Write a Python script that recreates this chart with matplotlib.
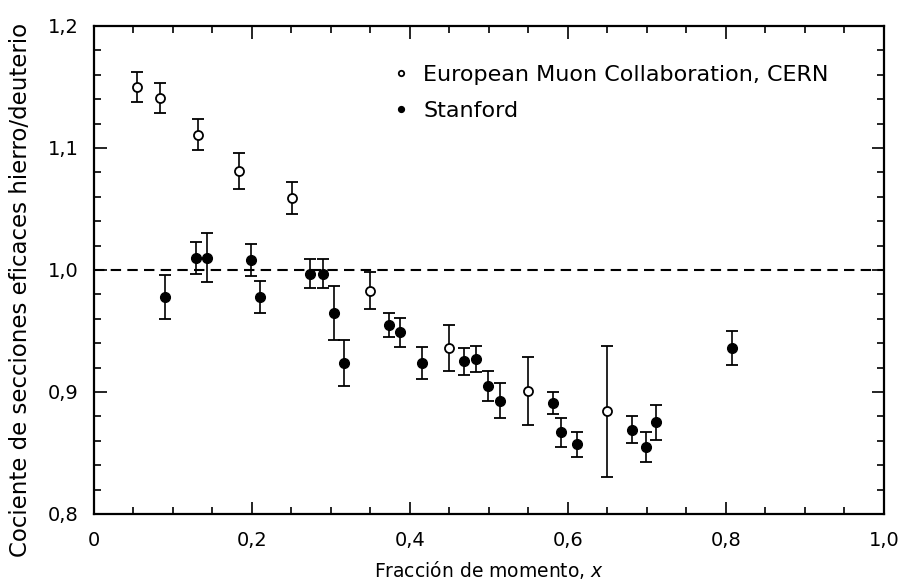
import matplotlib
matplotlib.use('Agg')
import matplotlib.pyplot as plt
from matplotlib.ticker import MultipleLocator, FuncFormatter

#---data---------------------------------------
emc_x = [0.054, 0.083, 0.132, 0.183, 0.251, 0.350, 0.450, 0.550, 0.650]
emc_y = [1.150, 1.141, 1.111, 1.081, 1.059, 0.983, 0.936, 0.901, 0.884]
emc_err = [0.012, 0.012, 0.013, 0.015, 0.013, 0.015, 0.019, 0.028, 0.054]

stan_x = [0.090, 0.129, 0.143, 0.199, 0.210, 0.273, 0.290, 0.304, 0.317,
          0.373, 0.387, 0.415, 0.468, 0.484, 0.499, 0.514, 0.581, 0.591,
          0.612, 0.681, 0.699, 0.711, 0.807]
stan_y = [0.978, 1.010, 1.010, 1.008, 0.978, 0.997, 0.997, 0.965, 0.924,
          0.955, 0.949, 0.924, 0.925, 0.927, 0.905, 0.893, 0.891, 0.867,
          0.857, 0.869, 0.855, 0.875, 0.936]
stan_err = [0.018, 0.013, 0.020, 0.013, 0.013, 0.012, 0.012, 0.022, 0.019,
            0.010, 0.012, 0.013, 0.011, 0.011, 0.012, 0.014, 0.009, 0.012,
            0.010, 0.011, 0.012, 0.014, 0.014]

x_label = 'Fracción de momento, $x$'
y_label = 'Cociente de secciones eficaces hierro/deuterio'
emc_name = 'European Muon Collaboration, CERN'
stan_name = 'Stanford'

plt.rcParams['font.family'] = ['DejaVu Sans']
plt.rcParams['mathtext.fontset'] = 'dejavusans'

fig = plt.figure(figsize=(9.01, 5.85), dpi=100)
ax = fig.add_axes([0.1043, 0.1214, 0.8768, 0.8342])

# reference line at ratio 1
ax.axhline(1.0, color='black', lw=1.5, ls=(0, (5, 3)), zorder=1)

emc = ax.errorbar(emc_x, emc_y, yerr=emc_err, fmt='o', ms=6.5, mfc='white',
                  mec='black', mew=1.3, ecolor='black', elinewidth=1.2,
                  capsize=4, capthick=1.3, zorder=3)
stan = ax.errorbar(stan_x, stan_y, yerr=stan_err, fmt='o', ms=7, mfc='black',
                   mec='black', ecolor='black', elinewidth=1.2,
                   capsize=4, capthick=1.3, zorder=3)

ax.set_xlim(0, 1.0)
ax.set_ylim(0.8, 1.2)

ax.xaxis.set_major_locator(MultipleLocator(0.2))
ax.xaxis.set_minor_locator(MultipleLocator(0.05))
ax.yaxis.set_major_locator(MultipleLocator(0.1))
ax.yaxis.set_minor_locator(MultipleLocator(0.02))

def comma(v, pos):
    if abs(v) < 1e-9:
        return '0'
    return ('%.1f' % v).replace('.', ',')

ax.xaxis.set_major_formatter(FuncFormatter(comma))
ax.yaxis.set_major_formatter(FuncFormatter(comma))

ax.tick_params(which='both', direction='in', top=True, right=True,
               width=1.2, labelsize=14, colors='black')
ax.tick_params(which='major', length=9)
ax.tick_params(axis='x', which='major', pad=12)
ax.tick_params(axis='y', which='major', pad=11)
ax.tick_params(which='minor', length=5)
for s in ax.spines.values():
    s.set_linewidth(1.6)

ax.set_xlabel(x_label, fontsize=13.5, labelpad=7)
ax.set_ylabel(y_label, fontsize=16.5)
ax.yaxis.set_label_coords(-0.078, 0.459)

ax.legend(handles=[emc[0], stan[0]], labels=[emc_name, stan_name],
          loc='upper left', bbox_to_anchor=(0.38, 0.92), frameon=False,
          markerscale=0.6, handlelength=0.6, handletextpad=0.7,
          labelspacing=0.72, fontsize=16, borderpad=0, borderaxespad=0)

fig.savefig('out.png', dpi=100)
